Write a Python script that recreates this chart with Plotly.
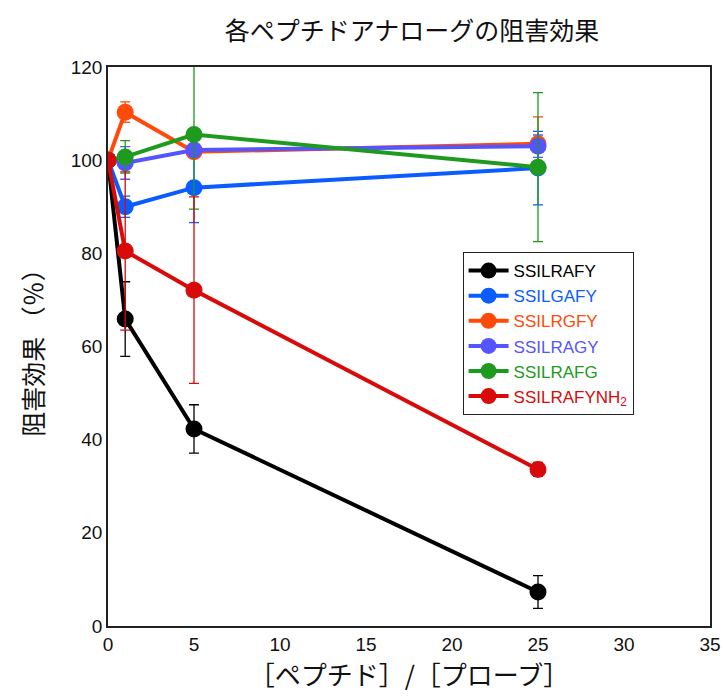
import plotly.graph_objects as go

# Peptide / probe ratio
ratio = [0, 1, 5, 25]

names = ["SSILRAFY", "SSILGAFY", "SSILRGFY", "SSILRAGY", "SSILRAFG", "SSILRAFYNH<sub>2</sub>"]
colors = ["#000000", "#0a5cff", "#ff4a0a", "#5555ff", "#1e9a1e", "#d90a0a"]

# Inhibition effect (%) and its error
ssilrafy = [100, 65.9, 42.3, 7.3]
ssilrafy_err = [0, 8.0, 5.2, 3.5]
ssilgafy = [100, 90.0, 94.1, 98.3]
ssilgafy_err = [0, 2.3, 7.5, 7.9]
ssilrgfy = [100, 110.3, 101.8, 103.5]
ssilrgfy_err = [0, 2.2, 0, 5.8]
ssilragy = [100, 99.4, 102.2, 103.0]
ssilragy_err = [0, 3.5, 0, 2.4]
ssilrafg = [100, 100.7, 105.5, 98.5]
ssilrafg_err = [0, 3.5, 16.0, 16.0]
ssilrafynh2 = [100, 80.5, 72.1, 33.6]
ssilrafynh2_err = [0, 17.0, 20.0, 1.5]

series = [
    (ssilrafy, ssilrafy_err),
    (ssilgafy, ssilgafy_err),
    (ssilrgfy, ssilrgfy_err),
    (ssilragy, ssilragy_err),
    (ssilrafg, ssilrafg_err),
    (ssilrafynh2, ssilrafynh2_err),
]

fig = go.Figure()
for name, color, (vals, errs) in zip(names, colors, series):
    fig.add_trace(go.Scatter(
        x=ratio, y=vals, mode="lines+markers",
        # legend label coloured like its series
        name=f"<span style='color:{color}'>{name}</span>",
        line=dict(color=color, width=4),
        marker=dict(color=color, size=17),
        error_y=dict(type="data", array=errs, visible=True, color=color,
                     thickness=1.3, width=5),
    ))

fig.update_layout(
    width=723, height=697,
    margin=dict(l=108, r=13, t=67, b=71),
    paper_bgcolor="white", plot_bgcolor="white",
    title=dict(text="各ペプチドアナローグの阻害効果", x=0.57, xanchor="center",
               y=0.955, yanchor="middle",
               font=dict(family="Noto Sans CJK JP", size=25, color="#111")),
    font=dict(family="Liberation Sans, Arial", color="#111"),
    showlegend=True,
    legend=dict(x=0.589, y=0.669, xanchor="left", yanchor="top",
                bordercolor="#222", borderwidth=1, bgcolor="white",
                font=dict(size=17, family="Liberation Sans, Arial"),
                tracegroupgap=0, itemwidth=40,
                entrywidth=170, entrywidthmode="pixels"),
)

fig.update_xaxes(range=[0, 35], dtick=5, showline=True, linecolor="#222", linewidth=1.5,
                 mirror=True, showgrid=False, zeroline=False, ticks="",
                 automargin=False,
                 tickfont=dict(size=19),
                 title=dict(text="［ペプチド］/［プローブ］", standoff=12,
                            font=dict(family="Noto Sans CJK JP", size=26)))
fig.update_yaxes(range=[0, 120], dtick=20, showline=True, linecolor="#222", linewidth=1.5,
                 mirror=True, showgrid=False, zeroline=False, ticks="",
                 automargin=False,
                 tickfont=dict(size=19),
                 title=dict(text="阻害効果 （％）", standoff=20,
                            font=dict(family="Noto Sans CJK JP", size=25)))

fig.write_html("out.html")
